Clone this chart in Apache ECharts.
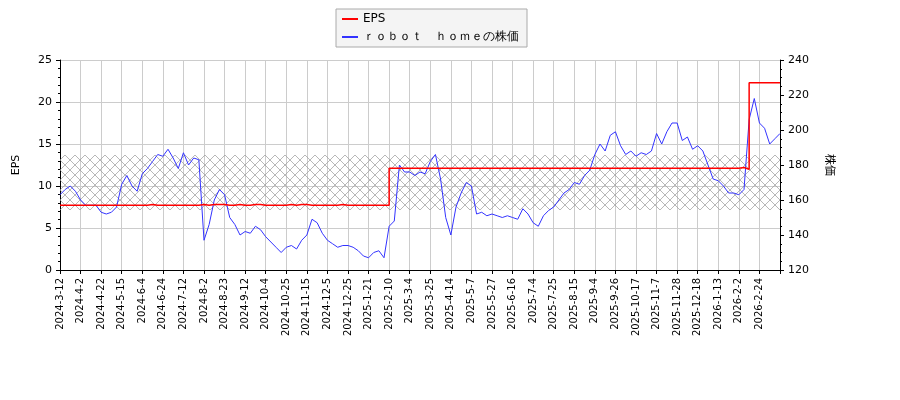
<!DOCTYPE html>
<html>
<head>
<meta charset="utf-8">
<script src="https://cdn.jsdelivr.net/npm/echarts@6/dist/echarts.min.js"></script>
<style>html,body{margin:0;padding:0;background:#fff}#main{width:900px;height:400px}</style>
</head>
<body>
<div id="main"></div>
<script>
// 目盛りラベル（14営業日ごと）
var tickLabels = ['2024-3-12','2024-4-2','2024-4-22','2024-5-15','2024-6-4','2024-6-24','2024-7-12','2024-8-2','2024-8-23','2024-9-12','2024-10-4','2024-10-25','2024-11-15','2024-12-5','2024-12-25','2025-1-21','2025-2-10','2025-3-4','2025-3-25','2025-4-14','2025-5-7','2025-5-27','2025-6-16','2025-7-4','2025-7-25','2025-8-15','2025-9-4','2025-9-26','2025-10-17','2025-11-7','2025-11-28','2025-12-18','2026-1-13','2026-2-2','2026-2-24'];
var perTick = 4;

// 株価
var price = [
  163,166,168,165, 160,157,157,157, 153,152,153,156, 169,174,168,165,
  175,178,182,186, 185,189,184,178, 187,180,184,183, 137,146,160,166,
  163,150,146,140, 142,141,145,143, 139,136,133,130, 133,134,132,137,
  140,149,147,141, 137,135,133,134, 134,133,131,128, 127,130,131,127,
  145,148,180,176, 176,174,176,175, 182,186,172,150, 140,156,164,170,
  168,152,153,151, 152,151,150,151, 150,149,155,152, 147,145,151,154,
  156,160,164,166, 170,169,174,177, 186,192,188,197, 199,191,186,188,
  185,187,186,188, 198,192,199,204, 204,194,196,189, 191,188,180,172,
  171,168,164,164, 163,166,206,218, 204,201,192,195, 198
];

// EPS
var eps = [
  7.7,7.7,7.7,7.7, 7.7,7.7,7.7,7.7, 7.7,7.7,7.7,7.7, 7.7,7.7,7.7,7.7,
  7.7,7.7,7.8,7.7, 7.7,7.7,7.7,7.7, 7.7,7.7,7.7,7.7, 7.8,7.7,7.8,7.8,
  7.8,7.7,7.7,7.8, 7.7,7.7,7.8,7.8, 7.7,7.7,7.7,7.7, 7.7,7.8,7.7,7.8,
  7.8,7.7,7.7,7.7, 7.7,7.7,7.7,7.8, 7.7,7.7,7.7,7.7, 7.7,7.7,7.7,7.7,
  7.7,12.1,12.1,12.1, 12.1,12.1,12.1,12.1, 12.1,12.1,12.1,12.1, 12.1,12.1,12.1,12.1,
  12.1,12.1,12.1,12.1, 12.1,12.1,12.1,12.1, 12.1,12.1,12.1,12.1, 12.1,12.1,12.1,12.1,
  12.1,12.1,12.1,12.1, 12.1,12.1,12.1,12.1, 12.1,12.1,12.1,12.1, 12.1,12.1,12.1,12.1,
  12.1,12.1,12.1,12.1, 12.1,12.1,12.1,12.1, 12.1,12.1,12.1,12.1, 12.1,12.1,12.1,12.1,
  12.1,12.1,12.1,12.1, 12.1,12.2,12.0,22.3, 22.3,22.3,22.3,22.3, 22.3
];

// 網掛け範囲（EPS軸）
var bandRange = [7.14, 13.7];

var categories = price.map(function (v, i) {
    return i % perTick === 0 ? (tickLabels[i / perTick] || '') : '';
});

// ハッチング模様
var pat = document.createElement('canvas');
pat.width = 10; pat.height = 10;
var ctx = pat.getContext('2d');
ctx.strokeStyle = '#999';
ctx.lineWidth = 0.7;
ctx.beginPath();
ctx.moveTo(0, 0); ctx.lineTo(10, 10);
ctx.moveTo(10, 0); ctx.lineTo(0, 10);
ctx.stroke();

var font = 'DejaVu Sans';
var myChart = echarts.init(document.getElementById('main'));
var option = {
    animation: false,
    textStyle: {fontFamily: font},
    grid: {left: 60, right: 120, top: 60, bottom: 130},
    legend: {
        orient: 'vertical',
        left: 336, top: 9,
        itemWidth: 16, itemHeight: 2,
        itemGap: 6,
        padding: [4, 8, 4, 6],
        borderColor: '#aaa', borderWidth: 1,
        backgroundColor: '#f4f4f4',
        textStyle: {fontSize: 12, color: '#000'},
        data: [
            {name: 'EPS', icon: 'rect'},
            {name: '\uff52\uff4f\uff42\uff4f\uff54\u3000\uff48\uff4f\uff4d\uff45の株価', icon: 'rect'}
        ]
    },
    xAxis: {
        type: 'category',
        data: categories,
        boundaryGap: false,
        axisLine: {onZero: false, lineStyle: {color: '#000'}},
        axisTick: {interval: perTick - 1, length: 4, lineStyle: {color: '#000'}},
        axisLabel: {interval: perTick - 1, rotate: 90, fontSize: 10, color: '#000', fontFamily: font},
        splitLine: {show: true, interval: perTick - 1, lineStyle: {color: '#ccc'}}
    },
    yAxis: [{
        type: 'value', min: 0, max: 25, interval: 5,
        name: 'EPS', nameLocation: 'middle', nameGap: 38,
        nameTextStyle: {fontSize: 11, color: '#000'},
        axisLine: {show: true, lineStyle: {color: '#000'}},
        axisTick: {show: true, length: 4},
        minorTick: {show: true, splitNumber: 5, length: 2},
        axisLabel: {fontSize: 11, color: '#000'},
        splitLine: {lineStyle: {color: '#ccc'}}
    }, {
        type: 'value', min: 120, max: 240, interval: 20,
        name: '株価', nameLocation: 'middle', nameGap: 45, nameRotate: -90,
        nameTextStyle: {fontSize: 11, color: '#000', fontFamily: 'Noto Sans CJK JP'},
        axisLine: {show: true, lineStyle: {color: '#000'}},
        axisTick: {show: true, length: 4},
        minorTick: {show: true, splitNumber: 4, length: 2},
        axisLabel: {fontSize: 11, color: '#000'},
        splitLine: {show: false}
    }],
    series: [{
        name: 'EPS', type: 'line', yAxisIndex: 0, step: 'start',
        data: eps, symbol: 'none', z: 3,
        lineStyle: {color: '#ff0000', width: 1.5}, itemStyle: {color: '#ff0000'},
        markArea: {
            silent: true,
            itemStyle: {color: {image: pat, repeat: 'repeat'}},
            data: [[{yAxis: bandRange[0]}, {yAxis: bandRange[1]}]]
        }
    }, {
        name: '\uff52\uff4f\uff42\uff4f\uff54\u3000\uff48\uff4f\uff4d\uff45の株価', type: 'line', yAxisIndex: 1,
        data: price, symbol: 'none', z: 2,
        lineStyle: {color: '#3333ff', width: 1}, itemStyle: {color: '#3333ff'}
    }]
};
myChart.setOption(option);
</script>
</body>
</html>
